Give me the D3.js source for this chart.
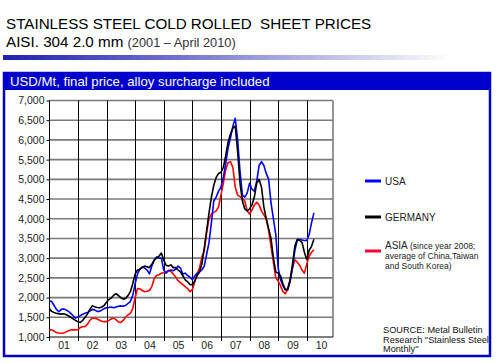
<!DOCTYPE html>
<html><head><meta charset="utf-8">
<script src="https://cdn.jsdelivr.net/npm/d3@7"></script>
<style>
html,body{margin:0;padding:0;background:#fff;}
svg{display:block;font-family:"Liberation Sans",Arial,sans-serif;}
</style></head>
<body><div id="chart"></div>
<script>
// ---- DATA (monthly, Jan 2001 – Apr 2010), USD/Mt ----
const yearLabels = ["01","02","03","04","05","06","07","08","09","10"];
const startYear = 2001;
const yTicks = [1000,1500,2000,2500,3000,3500,4000,4500,5000,5500,6000,6500,7000];
const seriesNames = ["USA","GERMANY","ASIA"];

const usa = [
  1920,1900,1800,1700,1640,1700,1710,1690,1650,1600,1540,1480,
  1510,1540,1580,1600,1620,1660,1700,1690,1650,1650,1680,1720,
  1740,1750,1760,1740,1760,1780,1790,1780,1800,1850,1900,2050,
  2350,2600,2720,2780,2750,2700,2600,2800,2950,3030,3000,3000,
  2700,2620,2680,2700,2680,2720,2800,2750,2600,2620,2560,2520,
  2450,2550,2620,2650,2700,2800,3100,3400,3900,4450,4550,4700,
  4800,5050,5400,5800,6050,6350,6550,6000,5200,4600,4550,4650,
  4900,4750,4700,4950,5350,5450,5350,5150,5000,4400,4000,3600,
  2750,2450,2300,2200,2200,2400,2750,3200,3450,3480,3460,3450,
  3450,3600,3900,4150
];
const germany = [
  1720,1650,1620,1600,1590,1580,1590,1570,1540,1500,1460,1420,
  1390,1370,1420,1500,1580,1700,1790,1770,1750,1740,1760,1800,
  1880,1950,1990,2060,2100,2050,2000,1960,1980,2050,2150,2350,
  2600,2700,2720,2760,2800,2780,2760,2850,2950,3000,3050,3130,
  2950,2820,2800,2830,2760,2760,2700,2650,2560,2450,2400,2330,
  2330,2420,2550,2650,2850,3250,3700,4150,4550,4850,5050,5150,
  5180,5300,5600,5950,6150,6300,6350,5700,4900,4450,4250,4200,
  4250,4350,4550,4900,5000,4800,4300,4000,3750,3500,3000,2650,
  2620,2550,2350,2200,2220,2450,2850,3300,3480,3450,3400,3150,
  2960,3200,3300,3480
];
const asia = [
  1180,1180,1150,1110,1100,1095,1100,1130,1160,1180,1180,1180,
  1190,1240,1260,1270,1320,1420,1480,1480,1460,1430,1400,1390,
  1390,1420,1460,1480,1440,1380,1370,1420,1500,1560,1600,1720,
  2000,2230,2220,2180,2150,2160,2180,2280,2480,2560,2580,2620,
  2630,2650,2690,2660,2600,2520,2430,2380,2330,2280,2230,2150,
  2200,2400,2600,2750,3020,3200,3650,4000,4120,4160,4200,4300,
  4600,4900,5250,5420,5450,5300,4800,4600,4560,4520,4450,4200,
  4120,4220,4350,4420,4350,4200,4100,4000,3700,3300,2900,2500,
  2420,2300,2150,2100,2200,2450,2750,2960,2900,2820,2700,2620,
  2850,3050,3150,3210
];

const W = 500, H = 363;
const svg = d3.select("#chart").append("svg").attr("width", W).attr("height", H);

// Title
svg.append("text").attr("x",6).attr("y",29).attr("font-size",15.2).attr("fill","#000")
  .style("white-space","pre").text("STAINLESS STEEL COLD ROLLED  SHEET PRICES");
const sub = svg.append("text").attr("x",6).attr("y",47).attr("fill","#000");
sub.append("tspan").attr("font-size",15.2).text("AISI. 304 2.0 mm ");
sub.append("tspan").attr("font-size",12.8).attr("fill","#333").text("(2001 – April 2010)");

// gradient bar
const defs = svg.append("defs");
const g1 = defs.append("linearGradient").attr("id","bar").attr("x1","0").attr("x2","1");
g1.append("stop").attr("offset","0").attr("stop-color","#2020b0");
g1.append("stop").attr("offset","0.35").attr("stop-color","#6a6acc");
g1.append("stop").attr("offset","1").attr("stop-color","#ffffff");
svg.append("rect").attr("x",3).attr("y",55).attr("width",450).attr("height",5).attr("fill","url(#bar)");

// panel
svg.append("rect").attr("x",4).attr("y",73).attr("width",486).attr("height",283)
  .attr("fill","#fff").attr("stroke","#0000cc").attr("stroke-width",2.5);
svg.append("rect").attr("x",3).attr("y",72).attr("width",488).attr("height",18).attr("fill","#0000cc");
svg.append("text").attr("x",10).attr("y",86).attr("font-size",13.2).attr("fill","#fff")
  .text("USD/Mt, final price, alloy surcharge included");

// scales
const x = d3.scaleLinear().domain([0,119]).range([49.3,333]);
const y = d3.scaleLinear().domain([1000,7000]).range([337,100.5]);

const plot = svg.append("g");
// horizontal grid
plot.append("g").selectAll("line").data(yTicks.filter(d=>d>1000)).join("line")
  .attr("x1",x(0)).attr("x2",x(119)).attr("y1",d=>y(d)).attr("y2",d=>y(d))
  .attr("stroke","#7a7a7a").attr("stroke-width",1.6);
// right border
plot.append("line").attr("x1",x(119)).attr("x2",x(119)).attr("y1",y(7000)).attr("y2",y(1000))
  .attr("stroke","#7a7a7a").attr("stroke-width",1.6);
// vertical grid at year boundaries
const yearStarts = d3.range(0, 10).map(i=>i*12);
plot.append("g").selectAll("line").data(yearStarts).join("line")
  .attr("x1",d=>Math.round(x(d))+0.5).attr("x2",d=>Math.round(x(d))+0.5)
  .attr("y1",y(7000)).attr("y2",y(1000)+4)
  .attr("stroke","#000").attr("stroke-width",1);
// x axis line
plot.append("line").attr("x1",x(0)).attr("x2",x(119)).attr("y1",y(1000)).attr("y2",y(1000))
  .attr("stroke","#000").attr("stroke-width",1);

// y axis
const yAxis = d3.axisLeft(y).tickValues(yTicks).tickSize(3).tickFormat(d3.format(","));
const ya = svg.append("g").attr("transform",`translate(${Math.round(x(0))+0.5},0)`).call(yAxis);
ya.select(".domain").remove();
ya.selectAll(".tick line").attr("stroke","#000");
ya.selectAll(".tick text").attr("font-size",10.5).attr("fill","#222")
  .attr("font-family","Liberation Sans, Arial, sans-serif").attr("x",-5);

// x labels
const xa = d3.axisBottom(x).tickValues(yearLabels.map((d,i)=>i*12+6)).tickSize(0)
  .tickFormat((d,i)=>yearLabels[i]);
const xg = svg.append("g").attr("transform",`translate(0,${y(1000)})`).call(xa);
xg.select(".domain").remove();
xg.selectAll(".tick text").attr("font-size",10.5).attr("fill","#222")
  .attr("font-family","Liberation Sans, Arial, sans-serif").attr("dy","0.71em").attr("y",5);

// lines
const line = d3.line().x((d,i)=>x(i)).y(d=>y(d));
const series = [
  {name:"ASIA", data:asia, color:"#ff0000"},
  {name:"USA", data:usa, color:"#0000ff"},
  {name:"GERMANY", data:germany, color:"#000000"}
];
svg.append("g").selectAll("path").data(series).join("path")
  .attr("d",d=>line(d.data)).attr("fill","none").attr("stroke",d=>d.color)
  .attr("stroke-width",1.6).attr("stroke-linejoin","round");

// legend
const lg = svg.append("g");
const leg = [
  {y:181, color:"#0000ff"},
  {y:217, color:"#000000"},
  {y:251, color:"#ff0033"}
];
leg.forEach(l=>{
  lg.append("line").attr("x1",365).attr("x2",381).attr("y1",l.y).attr("y2",l.y)
    .attr("stroke",l.color).attr("stroke-width",3);
});
lg.append("text").attr("x",385).attr("y",185).attr("font-size",10).attr("fill","#222").text(seriesNames[0]);
lg.append("text").attr("x",385).attr("y",221).attr("font-size",10).attr("fill","#222").text(seriesNames[1]);
const at = lg.append("text").attr("x",385).attr("y",249).attr("fill","#222");
at.append("tspan").attr("font-size",10).text("ASIA ");
at.append("tspan").attr("font-size",8.5).text("(since year 2008;");
lg.append("text").attr("x",385).attr("y",259).attr("font-size",8.5).attr("fill","#222").text("average of China,Taiwan");
lg.append("text").attr("x",385).attr("y",269).attr("font-size",8.5).attr("fill","#222").text("and South Korea)");

const src = ["SOURCE: Metal Bulletin","Research \"Stainless Steel","Monthly\""];
lg.selectAll("text.src").data(src).join("text").attr("class","src")
  .attr("x",383).attr("y",(d,i)=>333+i*9.7).attr("font-size",9.2).attr("fill","#111").text(d=>d);
</script></body></html>
